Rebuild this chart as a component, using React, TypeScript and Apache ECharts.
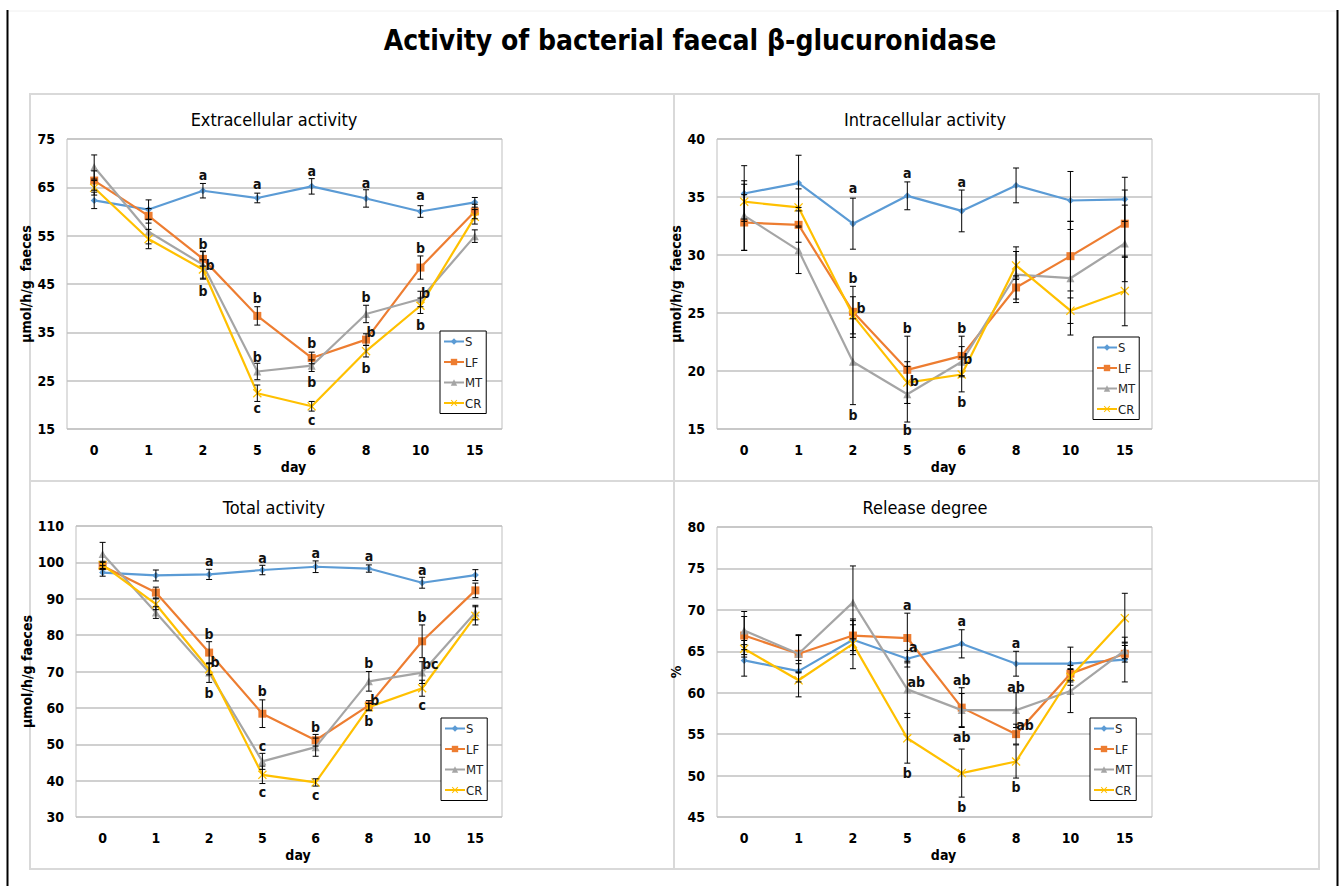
import React, { useEffect, useRef } from "react";
import * as echarts from "echarts";

const days = ["0", "1", "2", "5", "6", "8", "10", "15"];
const seriesNames = ["S", "LF", "MT", "CR"];

// Extracellular activity
const extS = [62.3, 60.4, 64.3, 62.8, 65.2, 62.7, 60.0, 61.9];
const extLF = [66.4, 59.1, 50.2, 38.4, 29.7, 33.5, 48.4, 60.0];
const extMT = [69.2, 55.8, 49.0, 26.9, 28.1, 38.8, 41.9, 54.9];
const extCR = [64.9, 54.3, 48.0, 22.4, 19.7, 31.1, 40.5, 58.9];
const extErrS = [1.7, 2.0, 1.5, 1.0, 1.6, 1.8, 1.2, 1.0];
const extErrLF = [2.0, 1.5, 1.5, 1.9, 1.2, 1.2, 2.4, 1.5];
const extErrMT = [2.5, 2.5, 2.8, 1.7, 1.2, 1.8, 1.6, 1.3];
const extErrCR = [1.5, 2.0, 2.0, 1.7, 1.0, 1.2, 1.6, 1.5];
// [day index, y value, x offset px]
const extLetterPos = [
  [2, 67.6, 0], [2, 53.3, 0], [2, 49.0, 7], [2, 43.5, 0],
  [3, 65.7, 0], [3, 42.1, 0], [3, 30.0, 0], [3, 19.3, 0],
  [4, 68.3, 0], [4, 32.8, 0], [4, 24.7, 0], [4, 16.9, 0],
  [5, 65.9, 0], [5, 42.3, 0], [5, 35.1, 5], [5, 27.6, 0],
  [6, 63.5, 0], [6, 52.4, 0], [6, 43.1, 5], [6, 36.6, 0],
];
const extLetters = ["a", "b", "b", "b", "a", "b", "b", "c", "a", "b", "b", "c", "a", "b", "b", "b", "a", "b", "b", "b"];

// Intracellular activity
const intS = [35.3, 36.2, 32.7, 35.1, 33.8, 36.0, 34.7, 34.8];
const intLF = [32.8, 32.6, 25.1, 20.1, 21.3, 27.2, 29.9, 32.7];
const intMT = [33.4, 30.4, 20.8, 18.0, 20.8, 28.3, 28.0, 31.0];
const intCR = [34.6, 34.1, 24.8, 19.0, 19.7, 29.1, 25.2, 26.9];
const intErrS = [2.4, 2.4, 2.2, 1.2, 1.8, 1.5, 2.5, 1.9];
const intErrLF = [2.4, 1.5, 2.2, 2.9, 1.7, 1.0, 3.0, 2.9];
const intErrMT = [3.0, 2.0, 3.7, 2.4, 1.3, 2.4, 4.9, 3.3];
const intErrCR = [1.5, 1.6, 1.6, 1.8, 1.5, 1.2, 1.1, 3.0];
const intLetterPos = [
  [2, 35.8, 0], [2, 28.0, 0], [2, 25.4, 8], [2, 16.2, 0],
  [3, 37.1, 0], [3, 23.7, 0], [3, 19.1, 7], [3, 14.9, 0],
  [4, 36.3, 0], [4, 23.7, 0], [4, 21.0, 6], [4, 17.3, 0],
];
const intLetters = ["a", "b", "b", "b", "a", "b", "b", "b", "a", "b", "b", "b"];

// Total activity
const totS = [97.2, 96.4, 96.7, 97.9, 98.8, 98.3, 94.4, 96.5];
const totLF = [99.0, 91.7, 75.2, 58.4, 51.1, 60.7, 78.3, 92.3];
const totMT = [102.3, 86.2, 69.7, 45.3, 49.2, 67.3, 69.7, 86.2];
const totCR = [99.3, 88.5, 70.6, 41.6, 39.5, 60.2, 65.4, 85.3];
const totErrS = [1.0, 1.5, 1.4, 1.3, 1.6, 1.0, 1.5, 1.5];
const totErrLF = [1.0, 1.5, 3.0, 3.8, 1.6, 1.3, 4.5, 2.0];
const totErrMT = [3.2, 1.6, 2.7, 2.2, 2.5, 2.7, 3.0, 2.0];
const totErrCR = [1.0, 1.5, 1.5, 2.4, 1.0, 1.0, 2.2, 2.5];
const totLetterPos = [
  [2, 100.4, 0], [2, 80.3, 0], [2, 72.5, 6], [2, 64.2, 0],
  [3, 101.3, 0], [3, 64.7, 0], [3, 49.6, 0], [3, 37.0, 0],
  [4, 102.7, 0], [4, 54.7, 0], [4, 36.1, 0],
  [5, 101.8, 0], [5, 72.3, 0], [5, 62.2, 6], [5, 56.3, 0],
  [6, 97.9, 0], [6, 85.1, 0], [6, 72.1, 8], [6, 60.8, 0],
];
const totLetters = ["a", "b", "b", "b", "a", "b", "c", "c", "a", "b", "c", "a", "b", "b", "b", "a", "b", "bc", "c"];

// Release degree
const relS = [63.9, 62.6, 66.4, 64.1, 65.9, 63.5, 63.5, 64.0];
const relLF = [66.9, 64.7, 66.9, 66.6, 58.2, 55.0, 62.3, 64.7];
const relMT = [67.5, 64.7, 70.9, 60.4, 57.9, 57.9, 60.2, 65.1];
const relCR = [65.3, 61.5, 65.9, 54.5, 50.3, 51.7, 61.9, 69.0];
const relErrS = [1.9, 1.3, 1.8, 1.0, 1.7, 1.5, 2.0, 2.7];
const relErrLF = [2.3, 2.2, 1.8, 3.0, 2.4, 1.2, 1.0, 1.0];
const relErrMT = [2.3, 2.3, 4.4, 3.4, 2.0, 2.1, 2.6, 1.0];
const relErrCR = [1.0, 2.0, 3.0, 3.0, 2.9, 2.0, 1.0, 3.0];
const relLetterPos = [
  [3, 70.6, 0], [3, 65.5, 6], [3, 61.3, 9], [3, 50.3, 0],
  [4, 68.6, 0], [4, 61.5, 0], [4, 54.7, 0], [4, 46.2, 0],
  [5, 66.0, 0], [5, 60.7, 0], [5, 56.1, 9], [5, 48.6, 0],
];
const relLetters = ["a", "a", "ab", "b", "a", "ab", "ab", "b", "a", "ab", "ab", "b"];

const FONT = "'Liberation Sans Narrow', 'DejaVu Sans Condensed', 'Noto Sans', sans-serif";
const COLORS = ["#5B9BD5", "#ED7D31", "#A5A5A5", "#FFC000"];
const X_PATH = "path://M0,1L1,0L5,4L9,0L10,1L6,5L10,9L9,10L5,6L1,10L0,9L4,5Z";
const SYMBOLS = ["diamond", "rect", "triangle", X_PATH];
const SYMBOL_SIZES = [7, 8, 8, 9];

const panels = [
  {
    title: "Extracellular activity", titleX: 274, titleY: 119,
    grid: { left: 67, top: 139, width: 435, height: 290 },
    min: 15, max: 75, interval: 10, yName: "μmol/h/g  faeces",
    values: [extS, extLF, extMT, extCR], errs: [extErrS, extErrLF, extErrMT, extErrCR],
    letterPos: extLetterPos, letters: extLetters,
    legend: { left: 440, top: 331 },
  },
  {
    title: "Intracellular activity", titleX: 925, titleY: 119,
    grid: { left: 717, top: 139, width: 435, height: 290 },
    min: 15, max: 40, interval: 5, yName: "μmol/h/g  faeces",
    values: [intS, intLF, intMT, intCR], errs: [intErrS, intErrLF, intErrMT, intErrCR],
    letterPos: intLetterPos, letters: intLetters,
    legend: { left: 1093, top: 337 },
  },
  {
    title: "Total activity", titleX: 274, titleY: 507,
    grid: { left: 76, top: 526, width: 426, height: 291 },
    min: 30, max: 110, interval: 10, yName: "μmol/h/g faeces",
    values: [totS, totLF, totMT, totCR], errs: [totErrS, totErrLF, totErrMT, totErrCR],
    letterPos: totLetterPos, letters: totLetters,
    legend: { left: 441, top: 718 },
  },
  {
    title: "Release degree", titleX: 925, titleY: 507,
    grid: { left: 717, top: 527, width: 435, height: 290 },
    min: 45, max: 80, interval: 5, yName: "%",
    values: [relS, relLF, relMT, relCR], errs: [relErrS, relErrLF, relErrMT, relErrCR],
    letterPos: relLetterPos, letters: relLetters,
    legend: { left: 1090, top: 718 },
  },
];

function buildOption() {
  const grids: any[] = [];
  const xAxes: any[] = [];
  const yAxes: any[] = [];
  const series: any[] = [];
  const legends: any[] = [];
  const graphics: any[] = [];

  // frame
  graphics.push(
    { type: "line", shape: { x1: 8, y1: 11, x2: 1337, y2: 11 }, style: { stroke: "#f0f0f0", lineWidth: 1 } },
    { type: "line", shape: { x1: 7.5, y1: 10, x2: 7.5, y2: 886 }, style: { stroke: "#000", lineWidth: 2 } },
    { type: "line", shape: { x1: 1337.5, y1: 10, x2: 1337.5, y2: 886 }, style: { stroke: "#000", lineWidth: 2 } },
    { type: "rect", shape: { x: 30, y: 94, width: 1289, height: 775 }, style: { stroke: "#d9d9d9", fill: "none", lineWidth: 2 } },
    { type: "line", shape: { x1: 674, y1: 94, x2: 674, y2: 869 }, style: { stroke: "#d9d9d9", lineWidth: 2 } },
    { type: "line", shape: { x1: 30, y1: 481, x2: 1319, y2: 481 }, style: { stroke: "#d9d9d9", lineWidth: 2 } },
    {
      type: "text", x: 690, y: 40,
      style: { text: "Activity of bacterial faecal β-glucuronidase", font: `bold 28px ${FONT}`, fill: "#000", textAlign: "center", textVerticalAlign: "middle" },
    }
  );

  panels.forEach((p, i) => {
    graphics.push({
      type: "text", x: p.titleX, y: p.titleY,
      style: { text: p.title, font: `18px ${FONT}`, fill: "#000", textAlign: "center", textVerticalAlign: "middle" },
    });
    grids.push({ ...p.grid, show: true, borderColor: "#bfbfbf", borderWidth: 1, backgroundColor: "#fff", containLabel: false });
    xAxes.push({
      type: "category", gridIndex: i, data: days, boundaryGap: true,
      axisLine: { show: false }, axisTick: { show: false },
      axisLabel: { color: "#000", fontWeight: "bold", fontSize: 14, fontFamily: FONT, margin: 14 },
      name: "day", nameLocation: "middle", nameGap: 31,
      nameTextStyle: { color: "#000", fontWeight: "bold", fontSize: 14, fontFamily: FONT, padding: [0, 0, 0, 18] },
    });
    yAxes.push({
      type: "value", gridIndex: i, min: p.min, max: p.max, interval: p.interval,
      axisLine: { show: false }, axisTick: { show: false },
      splitLine: { lineStyle: { color: "#c0c0c0", width: 1.5 } },
      axisLabel: { color: "#000", fontWeight: "bold", fontSize: 14, fontFamily: FONT, margin: 12 },
      name: p.yName, nameLocation: "middle", nameRotate: 90, nameGap: 34,
      nameTextStyle: { color: "#000", fontWeight: "bold", fontSize: 14, fontFamily: FONT },
    });
    legends.push({
      left: p.legend.left, top: p.legend.top, orient: "vertical",
      itemWidth: 20, itemHeight: 8, itemGap: 7.5, padding: [4, 4, 4, 3],
      borderColor: "#000", borderWidth: 1, backgroundColor: "#fff",
      selectedMode: false, data: seriesNames,
      textStyle: { fontSize: 13, fontFamily: FONT, color: "#222", padding: [0, 0, 0, -4] },
    });
    seriesNames.forEach((nm, k) => {
      series.push({
        type: "line", name: nm, xAxisIndex: i, yAxisIndex: i,
        data: p.values[k], symbol: SYMBOLS[k], symbolSize: SYMBOL_SIZES[k], showSymbol: true,
        lineStyle: { color: COLORS[k], width: 2.2 }, itemStyle: { color: COLORS[k] },
        z: 3 + k,
      });
    });
    seriesNames.forEach((nm, k) => {
      const vals = p.values[k];
      const err = p.errs[k];
      series.push({
        type: "custom", xAxisIndex: i, yAxisIndex: i, z: 10,
        data: vals.map((v, j) => [j, v - err[j], v + err[j]]),
        encode: { x: 0, y: [1, 2] },
        renderItem: (params: any, api: any) => {
          const x = api.value(0);
          const lo = api.coord([x, api.value(1)]);
          const hi = api.coord([x, api.value(2)]);
          const w = 3;
          const st = { stroke: "#000", lineWidth: 1 };
          return {
            type: "group",
            children: [
              { type: "line", shape: { x1: lo[0], y1: lo[1], x2: hi[0], y2: hi[1] }, style: st },
              { type: "line", shape: { x1: lo[0] - w, y1: lo[1], x2: lo[0] + w, y2: lo[1] }, style: st },
              { type: "line", shape: { x1: hi[0] - w, y1: hi[1], x2: hi[0] + w, y2: hi[1] }, style: st },
            ],
          };
        },
      });
    });
    const letters = p.letters;
    series.push({
      type: "custom", xAxisIndex: i, yAxisIndex: i, z: 12,
      data: p.letterPos,
      encode: { x: 0, y: 1 },
      renderItem: (params: any, api: any) => {
        const pt = api.coord([api.value(0), api.value(1)]);
        return {
          type: "text", x: pt[0] + api.value(2), y: pt[1],
          style: {
            text: letters[params.dataIndex], font: `bold 14px ${FONT}`, fill: "#111",
            align: "center", verticalAlign: "middle",
          },
        };
      },
    });
  });

  return {
    animation: false,
    backgroundColor: "#fff",
    grid: grids,
    xAxis: xAxes,
    yAxis: yAxes,
    legend: legends,
    series,
    graphic: graphics,
  };
}

export default function App() {
  const ref = useRef<HTMLDivElement>(null);
  useEffect(() => {
    if (!ref.current) return;
    const chart = echarts.init(ref.current, null, { renderer: "svg" });
    chart.setOption(buildOption() as any);
    return () => chart.dispose();
  }, []);
  return <div ref={ref} style={{ position: "absolute", left: 0, top: 0, width: 1340, height: 886 }} />;
}
